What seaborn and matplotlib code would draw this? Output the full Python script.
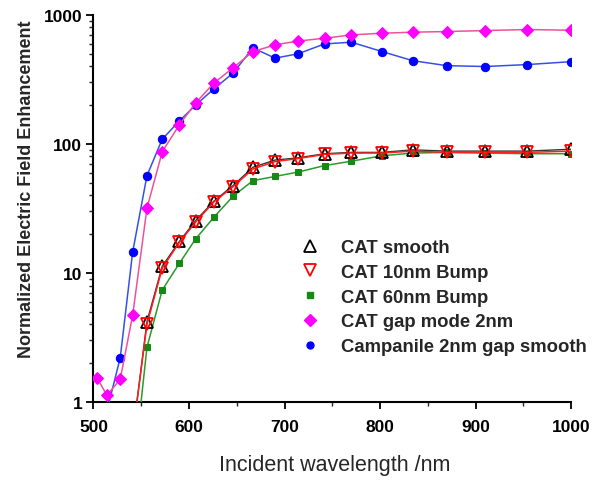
import matplotlib
matplotlib.use("Agg")
import matplotlib.pyplot as plt
import seaborn as sns
import pandas as pd
from matplotlib.lines import Line2D
from matplotlib.ticker import FixedLocator, NullFormatter

# ---- data ----
wavelength = [504, 514, 528, 541, 556, 572, 590, 607, 626, 646, 667,
              690, 714, 742, 770, 802, 834, 870, 910, 954, 1000]

cat_smooth = [None, None, None, 0.55, 4.2, 11.3, 17.6, 25.5, 36, 47.5, 66,
              75, 78, 84, 86, 86, 90, 88, 88, 88, 91]
cat_10nm = [None, None, None, 0.55, 4.0, 10.9, 17.3, 24.8, 35.5, 46.5, 64,
            73, 77, 83, 85, 85, 88, 86, 86, 86, 88]
cat_60nm = [None, None, None, 0.25, 2.66, 7.4, 11.9, 18.4, 27, 39.3, 52,
            56, 60.5, 68, 73.5, 81, 85, 86, 85, 84, 84]
cat_gap = [1.53, 1.13, 1.5, 4.7, 31.8, 87, 141, 208, 296, 388, 520,
           585, 627, 659, 700, 721, 734, 743, 756, 770, 760]
campanile = [0.9, 0.85, 2.2, 14.5, 56.8, 109, 151, 200, 267, 353, 555,
             462, 499, 596, 614, 520, 442, 404, 398, 412, 434]

labels = ["CAT smooth", "CAT 10nm Bump", "CAT 60nm Bump",
          "CAT gap mode 2nm", "Campanile 2nm gap smooth"]

sns.set_style("white")
plt.rcParams['font.family'] = ['Liberation Sans', 'DejaVu Sans']

fig = plt.figure(figsize=(6.05, 4.81), dpi=100)
ax = fig.add_axes([0.1545, 0.162, 0.7895, 0.805])

def frame(vals):
    return pd.DataFrame({"wl": wavelength, "v": vals}).dropna()

sns.lineplot(data=frame(campanile), x="wl", y="v", ax=ax, color="#3550e8", lw=1.1,
             marker="o", markersize=6, markerfacecolor="#0000ff", markeredgecolor="#0000ff",
             zorder=3)
sns.lineplot(data=frame(cat_gap), x="wl", y="v", ax=ax, color="#f0509a", lw=1.1,
             marker="D", markersize=6.5, markerfacecolor="#ff00ff", markeredgecolor="#ff00ff",
             zorder=4)
sns.lineplot(data=frame(cat_60nm), x="wl", y="v", ax=ax, color="#2a9a2a", lw=1.1,
             marker="s", markersize=5, markerfacecolor="#168a16", markeredgecolor="#168a16",
             zorder=3)
sns.lineplot(data=frame(cat_smooth), x="wl", y="v", ax=ax, color="#333333", lw=1.0,
             marker="^", markersize=9, markerfacecolor="none", markeredgecolor="black",
             markeredgewidth=1.3, zorder=5)
sns.lineplot(data=frame(cat_10nm), x="wl", y="v", ax=ax, color="#ff2020", lw=1.1,
             marker="v", markersize=9, markerfacecolor="none", markeredgecolor="#ff0000",
             markeredgewidth=1.3, zorder=6)

ax.set_yscale("log")
ax.set_xlim(500, 1000)
ax.set_ylim(1, 1000)

for s in ["top", "right"]:
    ax.spines[s].set_visible(False)
for s in ["left", "bottom"]:
    ax.spines[s].set_color("black")
    ax.spines[s].set_linewidth(1.5)

ax.set_xticks([500, 600, 700, 800, 900, 1000])
ax.xaxis.set_minor_locator(FixedLocator([550, 650, 750, 850, 950]))
ax.set_yticks([1, 10, 100, 1000])
ax.set_yticklabels(["1", "10", "100", "1000"])
ax.yaxis.set_minor_formatter(NullFormatter())
ax.tick_params(axis="both", which="major", direction="out", length=5, width=1.3,
               labelsize=12.5, colors="black", bottom=True, left=True)
ax.tick_params(axis="x", which="major", pad=7)
ax.tick_params(axis="y", which="major", pad=3)
ax.tick_params(axis="both", which="minor", direction="out", length=3, width=1.0,
               bottom=True, left=True)
for t in ax.get_xticklabels() + ax.get_yticklabels():
    t.set_fontweight("bold")

ax.set_xlabel("Incident wavelength /nm", fontsize=15.5)
ax.xaxis.set_label_coords(0.504, -0.133)
ax.set_ylabel("Normalized Electric Field Enhancement", fontsize=13, fontweight="bold")
ax.yaxis.set_label_coords(-0.122, 0.553)

handles = [
    Line2D([], [], ls="none", marker="^", ms=8, mfc="none", mec="black", mew=1.3),
    Line2D([], [], ls="none", marker="v", ms=8, mfc="none", mec="#ff0000", mew=1.3),
    Line2D([], [], ls="none", marker="s", ms=4.5, mfc="#168a16", mec="#168a16"),
    Line2D([], [], ls="none", marker="D", ms=6, mfc="#ff00ff", mec="#ff00ff"),
    Line2D([], [], ls="none", marker="o", ms=5, mfc="#0000ff", mec="#0000ff"),
]
leg = ax.legend(handles, labels, loc="upper left",
                bbox_to_anchor=(301 / 605, 1 - 240 / 481), bbox_transform=fig.transFigure,
                borderaxespad=0, borderpad=0, frameon=False,
                handlelength=1.0, handletextpad=1.15, labelspacing=0.42,
                prop={"weight": "bold", "size": 13.3})

fig.savefig("out.png", dpi=100)
